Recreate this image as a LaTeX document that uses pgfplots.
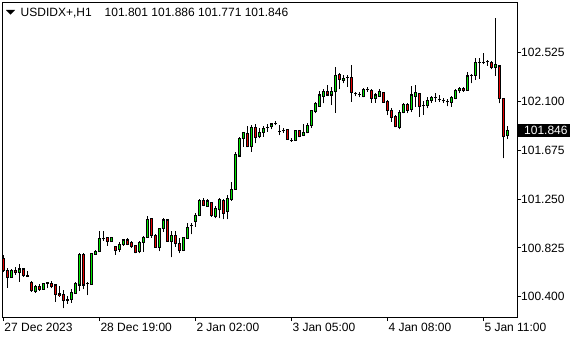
\documentclass[border=0pt]{standalone}
\usepackage{fontspec}
\setmainfont{Liberation Sans}
\usepackage{pgfplots}
\usepackage{pgfplotstable}
\pgfplotsset{compat=1.18}
\definecolor{bull}{RGB}{0,230,0}
\definecolor{bear}{RGB}{230,0,0}

\pgfplotstableread{
i O H L C
0 100.737 100.764 100.616 100.633
1 100.625 100.655 100.481 100.568
2 100.568 100.642 100.564 100.633
3 100.633 100.662 100.590 100.610
4 100.610 100.685 100.532 100.642
5 100.642 100.653 100.575 100.584
6 100.587 100.627 100.575 100.579
7 100.526 100.540 100.445 100.453
8 100.445 100.503 100.436 100.494
9 100.494 100.509 100.453 100.466
10 100.468 100.523 100.466 100.518
11 100.520 100.532 100.474 100.521
12 100.512 100.538 100.474 100.486
13 100.503 100.506 100.358 100.422
14 100.425 100.494 100.401 100.413
15 100.422 100.460 100.300 100.367
16 100.370 100.410 100.338 100.379
17 100.381 100.466 100.347 100.440
18 100.431 100.526 100.425 100.518
19 100.503 100.778 100.451 100.770
20 100.770 100.778 100.468 100.503
21 100.516 100.532 100.416 100.518
22 100.509 100.784 100.505 100.778
23 100.770 100.807 100.768 100.798
24 100.792 100.972 100.790 100.909
25 100.909 100.969 100.888 100.903
26 100.914 100.923 100.844 100.883
27 100.879 100.923 100.877 100.914
28 100.836 100.844 100.766 100.801
29 100.813 100.874 100.792 100.859
30 100.859 100.903 100.844 100.894
31 100.894 100.909 100.850 100.859
32 100.874 100.885 100.827 100.836
33 100.844 100.850 100.778 100.784
34 100.792 100.885 100.778 100.874
35 100.874 100.931 100.792 100.917
36 100.917 101.102 100.915 101.076
37 101.082 101.088 100.914 100.937
38 100.937 100.943 100.828 100.830
39 100.830 101.001 100.798 100.996
40 100.996 101.088 100.966 101.068
41 101.068 101.076 100.882 100.885
42 100.885 100.976 100.742 100.937
43 100.937 100.975 100.836 100.862
44 100.865 100.909 100.778 100.801
45 100.801 100.923 100.799 100.917
46 100.907 101.039 100.905 101.004
47 101.018 101.044 100.943 101.020
48 101.053 101.126 101.009 101.108
49 101.105 101.250 101.103 101.241
50 101.241 101.261 101.189 101.198
51 101.189 101.253 101.183 101.233
52 101.221 101.227 101.096 101.105
53 101.096 101.189 101.082 101.169
54 101.155 101.256 101.082 101.250
55 101.241 101.250 101.074 101.126
56 101.140 101.285 101.074 101.256
57 101.247 101.400 101.233 101.334
58 101.334 101.661 101.332 101.641
59 101.624 101.786 101.612 101.777
60 101.777 101.835 101.704 101.830
61 101.821 101.884 101.702 101.704
62 101.704 101.893 101.661 101.870
63 101.870 101.899 101.734 101.786
64 101.791 101.864 101.777 101.830
65 101.830 101.884 101.791 101.864
66 101.873 101.899 101.835 101.872
67 101.878 101.908 101.856 101.902
68 101.908 101.928 101.890 101.906
69 101.837 101.893 101.806 101.835
70 101.845 101.864 101.826 101.843
71 101.850 101.856 101.763 101.769
72 101.758 101.777 101.748 101.757
73 101.757 101.850 101.755 101.843
74 101.843 101.850 101.786 101.791
75 101.806 101.902 101.797 101.830
76 101.826 101.910 101.821 101.893
77 101.887 102.023 101.867 102.017
78 102.009 102.095 101.997 102.078
79 102.058 102.191 102.052 102.154
80 102.145 102.203 102.082 102.182
81 102.188 102.241 102.145 102.154
82 102.154 102.221 102.067 102.188
83 102.182 102.394 101.999 102.327
84 102.334 102.342 102.203 102.290
85 102.284 102.327 102.255 102.299
86 102.306 102.327 102.226 102.307
87 102.307 102.414 102.095 102.177
88 102.168 102.182 102.145 102.167
89 102.160 102.182 102.134 102.162
90 102.139 102.212 102.134 102.203
91 102.203 102.221 102.182 102.201
92 102.197 102.203 102.087 102.125
93 102.125 102.168 102.087 102.154
94 102.145 102.203 102.139 102.182
95 102.177 102.182 102.087 102.090
96 102.095 102.110 101.980 102.017
97 102.023 102.038 101.922 101.960
98 101.965 101.980 101.873 101.878
99 101.873 102.023 101.856 102.003
100 102.002 102.082 101.995 102.075
101 102.075 102.082 101.997 102.023
102 102.029 102.232 102.006 102.154
103 102.139 102.241 102.052 102.177
104 102.168 102.175 101.965 102.052
105 102.064 102.106 101.984 102.062
106 102.061 102.136 102.038 102.110
107 102.104 102.145 102.087 102.134
108 102.130 102.168 102.095 102.132
109 102.115 102.154 102.095 102.112
110 102.106 102.132 102.088 102.104
111 102.097 102.116 102.054 102.095
112 102.087 102.145 102.052 102.134
113 102.125 102.206 102.116 102.197
114 102.191 102.221 102.168 102.212
115 102.212 102.226 102.182 102.191
116 102.197 102.353 102.191 102.319
117 102.325 102.336 102.255 102.326
118 102.327 102.472 102.288 102.436
119 102.436 102.478 102.293 102.438
120 102.436 102.516 102.423 102.438
121 102.441 102.458 102.406 102.443
122 102.438 102.449 102.377 102.394
123 102.394 102.820 102.321 102.420
124 102.406 102.408 102.082 102.125
125 102.125 102.127 101.604 101.791
126 101.801 101.886 101.771 101.846
}\ohlc

\begin{document}
\begin{tikzpicture}[font=\fontsize{12}{14}\selectfont]
\useasboundingbox (0,0) rectangle (580pt,340pt);
\begin{axis}[
  at={(2pt,23pt)}, anchor=south west,
  scale only axis, width=515pt, height=315pt,
  xmin=-0.325, xmax=128.425, ymin=100.225, ymax=102.962,
  clip=false,
  axis line style={line width=0.9pt},
  tick align=outside, major tick length=4pt,
  tick style={black, line width=0.9pt},
  xtick pos=left, ytick pos=right, yticklabel pos=right,
  xtick={0,24,48,72,96,120},
  xticklabels={27 Dec 2023,28 Dec 19:00,2 Jan 02:00,3 Jan 05:00,4 Jan 08:00,5 Jan 11:00},
  ytick={100.4,100.825,101.25,101.675,102.1,102.525},
  yticklabels={100.400,100.825,101.250,101.675,102.100,102.525},
  xticklabel style={anchor=north west, inner sep=0pt, xshift=1pt, yshift=-2pt},
  yticklabel style={anchor=west, inner sep=0pt},
  tick label style={font=\fontsize{12}{14}\selectfont},
  minor tick num=0,
  scaled ticks=false,
  unbounded coords=discard,
  candle/.style={only marks, mark=*, mark size=0pt,
    mark options={draw=none, fill=none},
    error bars/y dir=plus, error bars/y explicit,
    error bars/error mark=none},
]
% wicks
\addplot[candle, error bars/error bar style={draw=black, solid, line width=1pt}]
  table[x=i, y=L, y error expr=\thisrow{H}-\thisrow{L}] {\ohlc};
% body outline
\addplot[candle, error bars/error bar style={draw=black, solid, line width=3.3pt}]
  table[x=i, y expr={min(\thisrow{O},\thisrow{C})-0.0045},
        y error expr={abs(\thisrow{C}-\thisrow{O})+0.009}] {\ohlc};
% bull fill
\addplot[candle, restrict expr to domain={\thisrow{C}-\thisrow{O}}{0.009:10},
  error bars/error bar style={draw=bull, solid, line width=1.3pt}]
  table[x=i, y expr={\thisrow{O}+0.0045},
        y error expr={\thisrow{C}-\thisrow{O}-0.009}] {\ohlc};
% bear fill
\addplot[candle, restrict expr to domain={\thisrow{O}-\thisrow{C}}{0.009:10},
  error bars/error bar style={draw=bear, solid, line width=1.3pt}]
  table[x=i, y expr={\thisrow{C}+0.0045},
        y error expr={\thisrow{O}-\thisrow{C}-0.009}] {\ohlc};
\coordinate (pl) at (axis cs:128.425,101.846);
\end{axis}
\fill[black] ([yshift=-6.5pt]pl) rectangle ++(53pt,13pt);
\node[anchor=west, inner sep=0pt, text=white] at ([xshift=7pt]pl) {101.846};
\fill[black] (6pt,330pt) -- (15pt,330pt) -- (10.5pt,325.3pt) -- cycle;
\node[anchor=base west, inner sep=0pt] at (20.5pt,323.3pt)
  {USDIDX+,H1\hspace{13pt}101.801 101.886 101.771 101.846};
\end{tikzpicture}
\end{document}
